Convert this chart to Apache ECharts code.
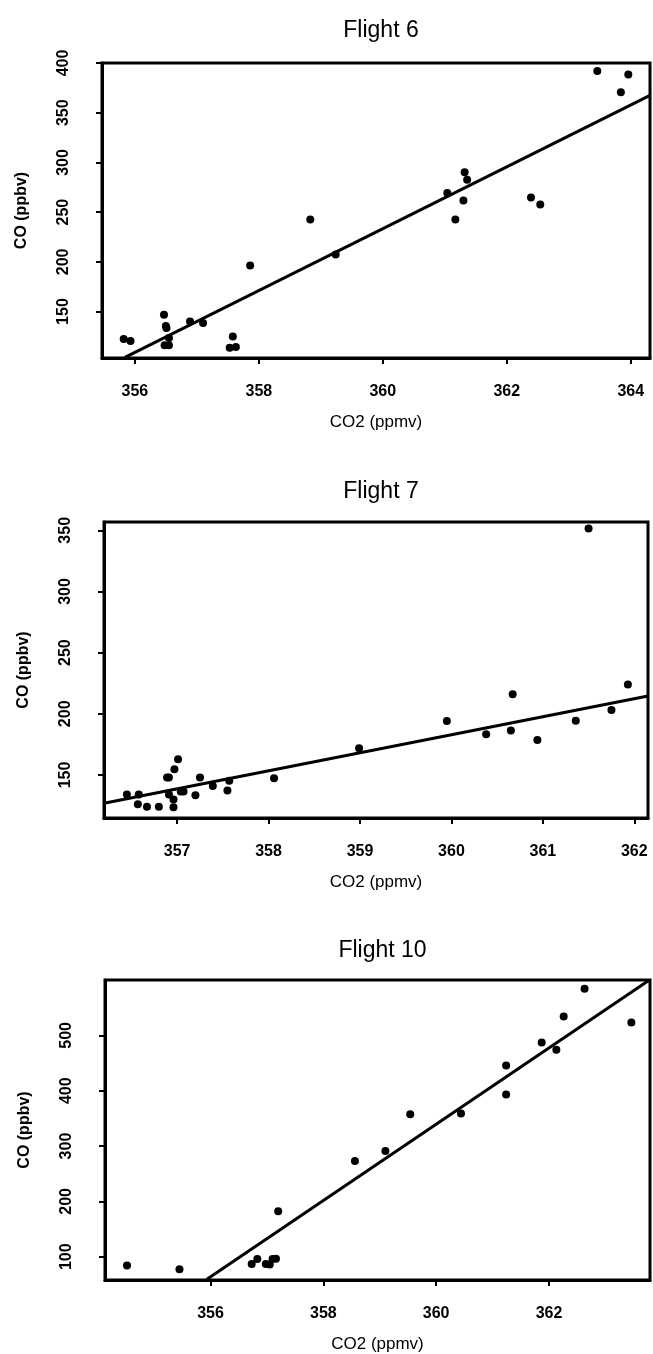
<!DOCTYPE html>
<html>
<head>
<meta charset="utf-8">
<script src="https://cdn.jsdelivr.net/npm/echarts@6/dist/echarts.min.js"></script>
<style>
html,body{margin:0;padding:0;background:#fff;}
#chart{width:653px;height:1354px;}
</style>
</head>
<body>
<div id="chart"></div>
<script>
// ---- Data ----
const titles = ['Flight 6', 'Flight 7', 'Flight 10'];
const xName = 'CO2 (ppmv)';
const yName = 'CO (ppbv)';

// Flight 6
const f6_co2 = [355.82, 355.93, 356.47, 356.50, 356.51, 356.55, 356.48, 356.55, 356.89, 357.10, 357.58, 357.53, 357.63, 357.86, 358.83, 359.24, 361.04, 361.17, 361.32, 361.36, 361.30, 362.39, 362.54, 363.46, 363.84, 363.96];
const f6_co  = [122.5, 120.5, 146.8, 135.4, 133.5, 123.5, 116, 116, 140, 138.5, 124.8, 113.7, 114.4, 196.4, 242.7, 207.3, 269.3, 242.7, 290.1, 282.7, 261.6, 264.6, 257.7, 392, 370.5, 388.5];
const f6_fitCo2 = [355.84, 364.31];
const f6_fitCo  = [104, 367.4];
const f6_xTicks = [356, 358, 360, 362, 364];
const f6_yTicks = [150, 200, 250, 300, 350, 400];

// Flight 7
const f7_co2 = [356.45, 356.58, 356.57, 356.67, 356.80, 356.89, 356.91, 356.91, 356.96, 356.96, 356.97, 357.01, 357.04, 357.07, 357.20, 357.25, 357.39, 357.55, 357.57, 358.06, 358.99, 359.95, 360.38, 360.65, 360.67, 360.94, 361.36, 361.50, 361.75, 361.93];
const f7_co  = [134, 134, 126, 124, 124, 148, 148, 134, 130, 123.5, 154.7, 162.8, 136.4, 136.4, 133.4, 148, 141, 137.2, 145.3, 147.3, 171.8, 194.1, 183.3, 186.4, 215.9, 178.6, 194.3, 351.4, 203.1, 224];
const f7_fitCo2 = [356.2, 362.15];
const f7_fitCo  = [126.8, 214.5];
const f7_xTicks = [357, 358, 359, 360, 361, 362];
const f7_yTicks = [150, 200, 250, 300, 350];

// Flight 10
const f10_co2 = [354.52, 355.45, 356.73, 356.83, 356.98, 357.05, 357.10, 357.16, 357.20, 358.56, 359.10, 359.54, 360.44, 361.24, 361.24, 361.87, 362.13, 362.26, 362.63, 363.46];
const f10_co  = [84, 77.6, 86.7, 95.8, 86.7, 86, 95.8, 96.5, 182, 273, 291, 357.5, 359, 445.5, 393, 487, 474, 534, 584, 523];
const f10_fitCo2 = [355.93, 363.78];
const f10_fitCo  = [59, 600];
const f10_xTicks = [356, 358, 360, 362];
const f10_yTicks = [100, 200, 300, 400, 500];

// ---- Layout ----
const FONT = '"Liberation Sans", Arial, Helvetica, sans-serif';
const panels = [
  {x: f6_co2, y: f6_co, fx: f6_fitCo2, fy: f6_fitCo, xt: f6_xTicks, yt: f6_yTicks,
   xmin: 355.47, xmax: 364.31, ymin: 103.3, ymax: 400,
   grid: {left: 102, right: 3, top: 63, height: 295}, titleTop: 14},
  {x: f7_co2, y: f7_co, fx: f7_fitCo2, fy: f7_fitCo, xt: f7_xTicks, yt: f7_yTicks,
   xmin: 356.2, xmax: 362.15, ymin: 114.8, ymax: 356.8,
   grid: {left: 104, right: 5, top: 522, height: 296}, titleTop: 475},
  {x: f10_co2, y: f10_co, fx: f10_fitCo2, fy: f10_fitCo, xt: f10_xTicks, yt: f10_yTicks,
   xmin: 354.13, xmax: 363.79, ymin: 58, ymax: 600,
   grid: {left: 105, right: 3, top: 980, height: 300}, titleTop: 934}
];

const option = {
  backgroundColor: '#fff',
  animation: false,
  title: [], grid: [], xAxis: [], yAxis: [], series: []
};

panels.forEach((p, i) => {
  const g = p.grid;
  const centerX = g.left + (653 - g.left - g.right) / 2;
  option.title.push({
    text: titles[i], left: centerX, top: p.titleTop, textAlign: 'center',
    textStyle: {fontFamily: FONT, fontSize: 23, fontWeight: 500, color: '#000'}
  });
  option.grid.push({
    left: g.left, right: g.right, top: g.top, height: g.height,
    show: true, borderColor: '#000', borderWidth: 3, backgroundColor: '#fff'
  });
  option.xAxis.push({
    type: 'value', gridIndex: i, min: p.xmin, max: p.xmax,
    name: xName, nameLocation: 'middle', nameGap: 56,
    nameTextStyle: {fontFamily: FONT, fontSize: 17, color: '#000'},
    axisLine: {show: true, lineStyle: {color: '#000', width: 3}},
    axisTick: {show: true, inside: false, length: 6, customValues: p.xt, lineStyle: {color: '#000', width: 2}},
    axisLabel: {customValues: p.xt, margin: 26, color: '#000', fontFamily: FONT, fontSize: 16, fontWeight: 'bold',
      formatter: v => String(Math.round(v))},
    splitLine: {show: false}
  });
  option.yAxis.push({
    type: 'value', gridIndex: i, min: p.ymin, max: p.ymax,
    name: yName, nameLocation: 'middle', nameGap: 72,
    nameTextStyle: {fontFamily: FONT, fontSize: 16, fontWeight: 'bold', color: '#000'},
    axisLine: {show: true, lineStyle: {color: '#000', width: 3}},
    axisTick: {show: true, inside: false, length: 6, customValues: p.yt, lineStyle: {color: '#000', width: 2}},
    axisLabel: {customValues: p.yt, rotate: 90, margin: 30, color: '#000', fontFamily: FONT, fontSize: 16, fontWeight: 'bold',
      formatter: v => String(Math.round(v))},
    splitLine: {show: false}
  });
  option.series.push({
    type: 'scatter', xAxisIndex: i, yAxisIndex: i,
    data: p.x.map((v, k) => [v, p.y[k]]),
    symbol: 'circle', symbolSize: 8, itemStyle: {color: '#000', opacity: 1}
  });
  option.series.push({
    type: 'line', xAxisIndex: i, yAxisIndex: i,
    data: p.fx.map((v, k) => [v, p.fy[k]]),
    symbol: 'none', lineStyle: {color: '#000', width: 3}, clip: true
  });
});

const chart = echarts.init(document.getElementById('chart'), null, {renderer: 'canvas'});
chart.setOption(option);
</script>
</body>
</html>
